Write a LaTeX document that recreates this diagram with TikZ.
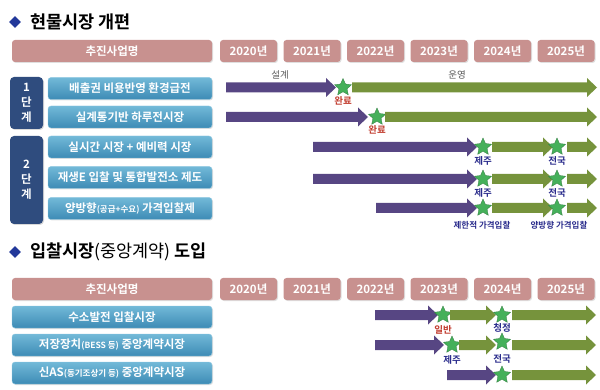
\documentclass[tikz,border=0pt]{standalone}
\usepackage{fontspec}
\setmainfont{Noto Sans CJK KR}[BoldFont={Noto Sans CJK KR Bold}]
\usetikzlibrary{shapes.geometric,shadows}
\definecolor{hdrpink}{HTML}{C8918F}
\definecolor{itemtop}{HTML}{72B9D8}
\definecolor{itembot}{HTML}{3D8BB5}
\definecolor{phasecol}{HTML}{2F4C7E}
\definecolor{purp}{HTML}{574683}
\definecolor{grn}{HTML}{76933C}
\definecolor{stargrn}{HTML}{45B05A}
\definecolor{redlab}{HTML}{C0392B}
\definecolor{navylab}{HTML}{2A2C8C}
\definecolor{titlediam}{HTML}{22389A}
\newcommand{\tarr}[4]{\fill[#4] (#1,#3-5) -- (#2-10,#3-5) -- (#2-10,#3-9.5) -- (#2,#3) -- (#2-10,#3+9.5) -- (#2-10,#3+5) -- (#1,#3+5) -- cycle;}
\begin{document}
\begin{tikzpicture}[x=1pt,y=-1pt,
  hdr/.style={rectangle, rounded corners=3pt, fill=hdrpink, text=white, minimum height=22pt, inner sep=0pt, font=\fontsize{11.5}{12}\selectfont\bfseries, drop shadow={opacity=0.25, shadow xshift=1pt, shadow yshift=-1pt}},
  item/.style={rectangle, rounded corners=3pt, top color=itemtop, bottom color=itembot, draw=itemtop!80!white, text=white, minimum height=22pt, inner sep=0pt, font=\fontsize{11.5}{12}\selectfont\bfseries, drop shadow={opacity=0.25, shadow xshift=1pt, shadow yshift=-1pt}},
  phase/.style={rectangle, rounded corners=4pt, fill=phasecol, text=white, minimum width=33pt, inner sep=0pt, align=center, font=\fontsize{11.5}{15}\selectfont\bfseries, drop shadow={opacity=0.3, shadow xshift=1pt, shadow yshift=-1pt}},
  diam/.style={diamond, fill=titlediam, minimum size=12pt, inner sep=0pt},
  ttl/.style={anchor=west, inner sep=0pt, font=\fontsize{17.5}{19}\selectfont},
  mstar/.style={star, star points=5, star point ratio=2.1, fill=stargrn, draw=stargrn!70!black, line width=0.3pt, minimum size=18pt, inner sep=0pt},
  lab/.style={inner sep=0pt, font=\fontsize{9.5}{11}\selectfont\bfseries},
  small/.style={inner sep=0pt, font=\fontsize{8.5}{10}\selectfont\bfseries, text=navylab}
]
\useasboundingbox (0,0) rectangle (600,390);
% ---------- titles
\node[diam] (d1) at (15,22) {};
\node[ttl] (t1) at (30,22) {\bfseries 현물시장 개편};
\node[diam] (d2) at (15,252) {};
\node[ttl] (t2) at (30,252) {\bfseries 입찰시장\mdseries(중앙계약) \bfseries 도입};
% ---------- header 1
\node[hdr, minimum width=200pt] (h1) at (112,51) {추진사업명};
\foreach \yr/\cx in {2020/248.5,2021/312,2022/375.5,2023/439,2024/502.5,2025/566}
  \node[hdr, minimum width=57pt] (ya\yr) at (\cx,51) {\yr{}년};
% ---------- header 2
\node[hdr, minimum width=200pt] (h2) at (112,289) {추진사업명};
\foreach \yr/\cx in {2020/248.5,2021/312,2022/375.5,2023/439,2024/502.5,2025/566}
  \node[hdr, minimum width=57pt] (yb\yr) at (\cx,289) {\yr{}년};
% ---------- phase boxes
\node[phase, minimum height=52pt] (p1) at (26.5,103) {1\\단\\계};
\node[phase, minimum height=88pt] (p2) at (26.5,180) {2\\단\\계};
% ---------- items
\node[item, minimum width=164pt] (r1) at (130,88.5) {배출권 비용반영 환경급전};
\node[item, minimum width=164pt] (r2) at (130,117) {실계통기반 하루전시장};
\node[item, minimum width=164pt] (r3) at (130,147) {실시간 시장 + 예비력 시장};
\node[item, minimum width=164pt] (r4) at (130,177.5) {재생E 입찰 및 통합발전소 제도};
\node[item, minimum width=164pt] (r5) at (130,208.5) {양방향{\fontsize{8.5}{10}\selectfont(공급+수요)} 가격입찰제};
\node[item, minimum width=200pt] (ra) at (112,317) {수소발전 입찰시장};
\node[item, minimum width=200pt] (rb) at (112,345) {저장장치{\fontsize{8.5}{10}\selectfont(BESS 등)} 중앙계약시장};
\node[item, minimum width=200pt] (rc) at (112,373) {신AS{\fontsize{8.5}{10}\selectfont(동기조상기 등)} 중앙계약시장};
% ---------- row 1
\tarr{226}{336}{87.5}{purp}
\node[mstar] (s1) at (343,87.5) {};
\tarr{352}{597}{87.5}{grn}
\node[lab, text=black!65, font=\fontsize{9.5}{11}\selectfont] (l1a) at (280,75) {설계};
\node[lab, text=black!65, font=\fontsize{9.5}{11}\selectfont] (l1b) at (457,75) {운영};
\node[lab, text=redlab] (l1c) at (343,101) {완료};
% ---------- row 2
\tarr{226}{368}{117}{purp}
\node[mstar] (s2) at (377,117) {};
\tarr{385}{597}{117}{grn}
\node[lab, text=redlab] (l2c) at (377,130) {완료};
% ---------- rows 3-5
\foreach \yy/\xs/\n in {147/313/3,179/313/4,208/376/5}{
  \tarr{\xs}{477}{\yy}{purp}
  \node[mstar] (sa\n) at (483,\yy) {};
  \tarr{492}{553}{\yy}{grn}
  \node[mstar] (sb\n) at (557,\yy) {};
  \tarr{567}{597}{\yy}{grn}
}
\node[lab, text=navylab] (l3a) at (483,160.5) {제주};
\node[lab, text=navylab] (l3b) at (557,160.5) {전국};
\node[lab, text=navylab] (l4a) at (483,192.5) {제주};
\node[lab, text=navylab] (l4b) at (557,192.5) {전국};
\node[small] (l5a) at (482,225) {제한적 가격입찰};
\node[small] (l5b) at (559,225) {양방향 가격입찰};
% ---------- row A
\tarr{375}{438}{315}{purp}
\node[mstar] (sA1) at (443,315) {};
\tarr{450}{496}{315}{grn}
\node[mstar] (sA2) at (502,315) {};
\tarr{512}{596}{315}{grn}
\node[lab, text=redlab] (lA1) at (443,330) {일반};
\node[lab, text=navylab] (lA2) at (502,328) {청정};
% ---------- row B
\tarr{375}{444}{345}{purp}
\node[mstar] (sB1) at (452,345) {};
\tarr{459}{496}{345}{grn}
\node[mstar] (sB2) at (502,342) {};
\tarr{512}{596}{345}{grn}
\node[lab, text=navylab] (lB1) at (452,360) {제주};
\node[lab, text=navylab] (lB2) at (502,359) {전국};
% ---------- row C
\tarr{447}{496}{375}{purp}
\node[mstar] (sC) at (502,375) {};
\tarr{512}{596}{375}{grn}
\end{tikzpicture}
\end{document}
